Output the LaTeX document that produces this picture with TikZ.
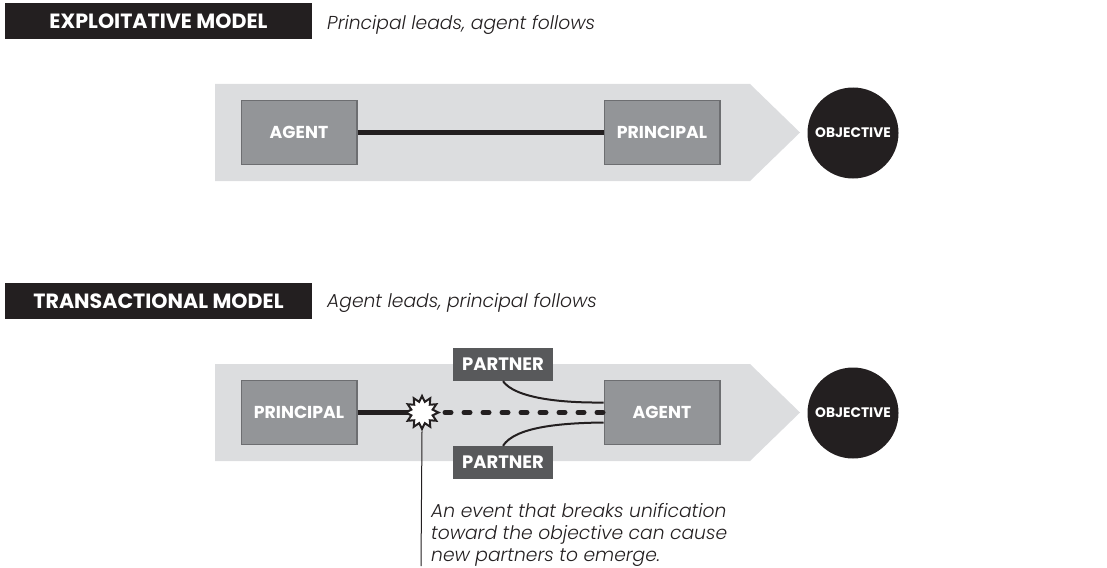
\documentclass[tikz,border=0pt]{standalone}
\usepackage{fontspec}
\setmainfont{Poppins}[ItalicFont={Poppins Light Italic}]
\usetikzlibrary{shapes.geometric}
\definecolor{bandgray}{HTML}{DCDDDF}
\definecolor{boxgray}{HTML}{939598}
\definecolor{boxedge}{HTML}{6D6E71}
\definecolor{partnergray}{HTML}{58595B}
\definecolor{nearblack}{HTML}{231F20}
\tikzset{
  modelbox/.style={fill=nearblack,text=white,minimum width=307pt,minimum height=36pt,inner sep=0pt,font=\fontsize{20.6}{24}\selectfont\bfseries},
  rolebox/.style={fill=boxgray,draw=boxedge,line width=1.5pt,text=white,minimum width=115.5pt,minimum height=64pt,inner sep=0pt,font=\fontsize{17.3}{20}\selectfont\bfseries},
  partnerbox/.style={fill=partnergray,text=white,minimum width=100pt,minimum height=33pt,inner sep=0pt,font=\fontsize{18}{20}\selectfont\bfseries},
  objective/.style={circle,fill=nearblack,text=white,minimum size=91pt,inner sep=0pt,font=\fontsize{13.8}{16}\selectfont\bfseries},
  caption/.style={anchor=west,inner sep=0pt,text=nearblack,font=\fontsize{18.7}{22.3}\selectfont\itshape},
  link/.style={line width=5pt,nearblack},
}
\begin{document}
\begin{tikzpicture}[x=1pt,y=1pt]
        \useasboundingbox (0,0) rectangle (1107,-567);

        % top model
        \node[modelbox] (titleA) at (158.5,-21){EXPLOITATIVE MODEL};
        \node[caption] (noteA) at (327,-25){Principal leads, agent follows};
        \fill[bandgray] (215,-84) -- (750,-84) -- (800,-132.5) -- (750,-181) -- (215,-181) -- cycle;
        \node[rolebox] (agentA) at (299,-132.5){AGENT};
        \node[rolebox] (principalA) at (662,-132.5){PRINCIPAL};
        \node[objective] (goalA) at (853,-133){OBJECTIVE};
        \draw[link] (agentA) -- (principalA);

        % bottom model
        \node[modelbox] (titleB) at (158.5,-301){TRANSACTIONAL MODEL};
        \node[caption] (noteB) at (327,-303){Agent leads, principal follows};
        \fill[bandgray] (215,-364) -- (750,-364) -- (800,-412.5) -- (750,-461) -- (215,-461) -- cycle;
        \node[rolebox] (principalB) at (299,-412.5){PRINCIPAL};
        \node[rolebox] (agentB) at (662,-412.5){AGENT};
        \node[objective] (goalB) at (853,-413){OBJECTIVE};
        \node[partnerbox] (partnerT) at (503,-364.5){PARTNER};
        \node[partnerbox] (partnerD) at (503,-462.5){PARTNER};
        \coordinate (burstmid) at (422,-412.5);
        \coordinate (dashstart) at (445,-412.5);
        \coordinate (leadend) at (421,-566);

        \draw[line width=5pt,nearblack,dash pattern=on 6pt off 13pt,line cap=round] (dashstart) -- (agentB);
        \draw[link] (principalB) -- (burstmid);
        \node[star,star points=12,star point ratio=1.5,draw=nearblack,fill=white,line width=2pt,minimum size=33pt,inner sep=0pt] (burst) at (burstmid){};
        \draw[line width=2pt,nearblack] (partnerT.south) .. controls (515,-398) and (560,-403) .. ([yshift=10pt]agentB.west);
        \draw[line width=2pt,nearblack] (partnerD.north) .. controls (515,-427) and (560,-423) .. ([yshift=-10pt]agentB.west);
        \draw[line width=1pt,nearblack] (burst.south) -- (leadend);

        \node[caption,anchor=north west,align=left] (noteC) at (431,-503){An event that breaks unification\\toward the objective can cause\\new partners to emerge.};
    \end{tikzpicture}
\end{document}
